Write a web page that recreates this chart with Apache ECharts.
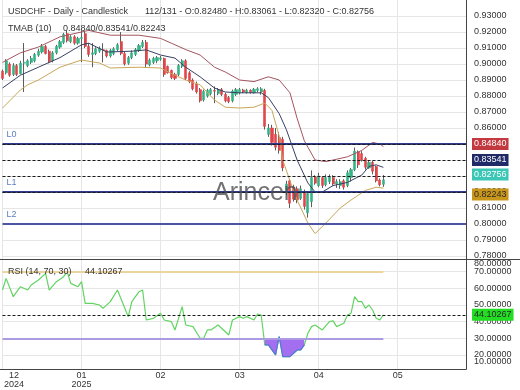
<!DOCTYPE html>
<html><head><meta charset="utf-8">
<script src="https://cdn.jsdelivr.net/npm/echarts@6/dist/echarts.min.js"></script>
<style>html,body{margin:0;padding:0;background:#fff}#c{width:520px;height:390px}</style>
</head><body><div id="c"></div>
<script>
// ---- data ----
const opens = [.8955,.8945,.9000,.8935,.8990,.8940,.9005,.8990,.9010,.9020,.9055,.9075,.9110,.9080,.9020,.9070,.9105,.9135,.9190,.9140,.9170,.9130,.9160,.9190,.9110,.9060,.9065,.9080,.9090,.9085,.9050,.9065,.9090,.9140,.9065,.9005,.9040,.9060,.9085,.9110,.9135,.8995,.9010,.9020,.9030,.9035,.8985,.8960,.8935,.8935,.8985,.9020,.8945,.8900,.8875,.8840,.8775,.8800,.8815,.8835,.8815,.8840,.8810,.8790,.8770,.8810,.8820,.8838,.8822,.8836,.8820,.8835,.8825,.8835,.8560,.8600,.8560,.8540,.8530,.8210,.8270,.8230,.8220,.8160,.8200,.8070,.8140,.8295,.8240,.8290,.8245,.8265,.8290,.8250,.8240,.8270,.8240,.8290,.8340,.8450,.8440,.8410,.8350,.8385,.8360,.8275,.82480];
const highs = [.8965,.9030,.9010,.9005,.9000,.9020,.9131,.9030,.9050,.9070,.9095,.9125,.9120,.9090,.9080,.9120,.9150,.9195,.9210,.9180,.9180,.9170,.9210,.9205,.9130,.9130,.9105,.9110,.9130,.9090,.9095,.9105,.9130,.9200,.9075,.9050,.9085,.9100,.9125,.9150,.9150,.9035,.9045,.9050,.9050,.9040,.8990,.8965,.8945,.9000,.9030,.9030,.8955,.8910,.8890,.8850,.8840,.8845,.8850,.8860,.8850,.8850,.8820,.8800,.8840,.8850,.8850,.8845,.8845,.8842,.8850,.8855,.8855,.8845,.8625,.8620,.8600,.8575,.8545,.8270,.8280,.8245,.8235,.8240,.8215,.8200,.8335,.8305,.8320,.8300,.8310,.8310,.8305,.8280,.8280,.8280,.8335,.8350,.8478,.8460,.8455,.8420,.8400,.8395,.8365,.8285,.83061];
const lows = [.8900,.8935,.8920,.8925,.8925,.8935,.8825,.8980,.9000,.9010,.9045,.9065,.9060,.9005,.9010,.9060,.9095,.9125,.9135,.9130,.9120,.9120,.9012,.9100,.9045,.8980,.9055,.9070,.9010,.9040,.9040,.9055,.9080,.9055,.8990,.8995,.9030,.9050,.9075,.9100,.8975,.8985,.9000,.9005,.9020,.8920,.8940,.8905,.8900,.8925,.8975,.8900,.8880,.8835,.8815,.8760,.8765,.8790,.8805,.8755,.8805,.8800,.8760,.8755,.8760,.8800,.8810,.8818,.8815,.8815,.8815,.8825,.8808,.8590,.8545,.8490,.8460,.8440,.8330,.8180,.8100,.8140,.8130,.8150,.8090,.8040,.8105,.8245,.8230,.8225,.8235,.8250,.8240,.8225,.8220,.8215,.8230,.8265,.8330,.8350,.8390,.8340,.8345,.8310,.8260,.8235,.82320];
const closes = [.8910,.9020,.8930,.8990,.8935,.9005,.9010,.9020,.9035,.9060,.9080,.9110,.9065,.9015,.9070,.9110,.9140,.9185,.9145,.9170,.9130,.9160,.9165,.9110,.9060,.9070,.9095,.9100,.9085,.9050,.9085,.9095,.9120,.9065,.9000,.9040,.9070,.9090,.9115,.9135,.9000,.9025,.9035,.9040,.9038,.8935,.8945,.8915,.8910,.8990,.9020,.8910,.8890,.8845,.8825,.8770,.8830,.8835,.8840,.8830,.8840,.8810,.8770,.8765,.8830,.8840,.8840,.8825,.8836,.8822,.8842,.8845,.8845,.8610,.8600,.8510,.8480,.8460,.8350,.8250,.8130,.8155,.8150,.8220,.8110,.8190,.8290,.8255,.8300,.8240,.8290,.8295,.8250,.8265,.8265,.8230,.8320,.8340,.8455,.8370,.8400,.8355,.8385,.8330,.8270,.8245,.82756];

const upperBand = [[0,.901],[5,.907],[10,.9106],[16,.917],[22,.920],[24,.921],[30,.918],[38,.918],[44,.916],[47,.913],[51,.909],[55,.9056],[59,.898],[62,.895],[66,.890],[70,.889],[74,.892],[77,.890],[80,.882],[82,.866],[84,.852],[85,.848],[87,.840],[90,.839],[92,.840],[96,.842],[100,.846],[103,.851],[105,.850],[106,.84840]];
const midBand = [[0,.885],[5,.893],[10,.898],[16,.904],[22,.912],[24,.913],[29,.9075],[36,.908],[40,.9088],[44,.9056],[48,.9037],[51,.898],[55,.892],[59,.885],[62,.8825],[66,.882],[72,.882],[74,.879],[77,.869],[79,.859],[82,.840],[85,.8256],[87,.820],[89,.820],[92,.824],[96,.826],[100,.8306],[102,.836],[104,.837],[106,.83541]];
const lowerBand = [[0,.8725],[5,.8838],[7,.887],[10,.890],[16,.898],[22,.9025],[27,.9006],[30,.8975],[38,.898],[44,.8975],[47,.894],[51,.890],[55,.887],[59,.8775],[62,.873],[66,.8725],[70,.873],[73,.8756],[75,.871],[77,.855],[78,.840],[80,.827],[82,.815],[85,.8006],[87,.794],[90,.8006],[94,.810],[97,.815],[101,.821],[104,.823],[106,.82243]];

const rsiPoints = [[0,59],[1,66],[3,55],[5,61],[7,59],[8,62],[10,65],[12,69],[13,59],[15,64],[17,67],[18,70],[19,63],[21,61],[22,64],[23,51],[25,51],[27,50],[28,48],[30,52],[32,59],[35,43],[36,52],[38,58],[39,59],[40,41],[42,42],[44,45],[45,41],[47,40],[48,35],[49,42],[50,49],[51,38],[53,37],[55,30],[56,30],[57,35],[58,35],[60,38],[63,32],[64,41],[66,43],[67,42],[68,43],[70,41],[71,44.6],[72,44],[73,26],[74,26],[76,20],[77,31],[78,19],[80,19],[81,21],[82,23],[83,23],[84,26],[85,33],[86,37],[87,38],[89,35],[91,40],[92,40.5],[93,37],[95,39],[96,44],[97,45],[98,55],[99,52],[100,52],[101,48],[102,50],[103,47],[104,42],[105,41],[106,44.10267]];
const rsiDipRange = [73, 84];

const levelNames = ['L0','L1','L2'];
const levelValues = [0.84785, 0.82111, 0.80392];
const priceTicks = [0.78,0.79,0.80,0.81,0.82,0.83,0.84,0.85,0.86,0.87,0.88,0.89,0.90,0.91,0.92,0.93];
const rsiTicks = [20,30,40,50,60,70];
const rsiEdgeTicks = [80,10];
const rsiBands = [70,30];
const monthLabels = ['12\n2024','01\n2025','02','03','04','05'];
const LABEL_EVERY = 22;
const SLOTS = 130;

// ---- chart ----
const FONT = 'Liberation Sans, Arial, sans-serif';
const chart = echarts.init(document.getElementById('c'), null, {renderer:'canvas', width:520, height:390});
const cats = Array.from({length: SLOTS}, (_, i) => String(i));
const last = closes.length - 1;
const f5 = v => v.toFixed(5);
const UP = '#35b386', DOWN = '#e0464c', WICK = '#5c5c5c';
const rsiLast = rsiPoints[rsiPoints.length - 1][1];
const tmabLast = [upperBand, midBand, lowerBand].map(a => a[a.length - 1][1]);

const dashed = (v, bg, fg, off) => ({
  yAxis: v,
  lineStyle: {color: '#1a1a1a', width: 1, type: [3, 2]},
  label: {show: true, position: 'end', formatter: f5(v), backgroundColor: bg, color: fg,
    padding: [2, 2, 1, 2], fontSize: 9, fontFamily: FONT, distance: 6, offset: [0, off]}
});

const priceMarks = [];
levelValues.forEach((v, i) => {
  priceMarks.push({yAxis: v, lineStyle: {color: i === 2 ? '#4b55a3' : '#2f3a8a', width: 2, type: 'solid'},
    label: {show: true, position: 'insideStartTop', formatter: levelNames[i], color: '#5f7dc2', fontSize: 9, fontFamily: FONT, distance: [4, 5]}});
  priceMarks.push({yAxis: v, lineStyle: {opacity: 0},
    label: {show: true, position: 'insideEndTop', formatter: f5(v), color: '#7290cf', fontSize: 10, fontFamily: FONT, distance: [39, 2]}});
});
priceMarks.push(dashed(tmabLast[0], '#c23a3f', '#fff', 0));
priceMarks.push(dashed(tmabLast[1], '#1f2a66', '#fff', 0));
priceMarks.push(dashed(closes[last], '#3cc6b5', '#fff', -1.5));
priceMarks.push(dashed(tmabLast[2], '#c9961c', '#2a2a2a', 2.5));

const band = (name, data, color, extra) => Object.assign({
  name, type: 'line', xAxisIndex: 0, yAxisIndex: 0, data, showSymbol: false, symbol: 'none',
  lineStyle: {color, width: 1}, silent: true, z: 3
}, extra || {});

const option = {
  animation: false,
  backgroundColor: '#fff',
  textStyle: {fontFamily: FONT},
  grid: [
    {left: 2.5, right: 54, top: 0, height: 259, containLabel: false, outerBoundsMode: 'none'},
    {left: 2.5, right: 54, top: 259, height: 110, containLabel: false, outerBoundsMode: 'none'}
  ],
  xAxis: [
    {gridIndex: 0, type: 'category', data: cats, boundaryGap: false,
      axisLine: {show: false}, axisTick: {show: false}, axisLabel: {show: false},
      splitLine: {show: true, interval: LABEL_EVERY - 1, lineStyle: {color: '#e6e6e6'}}},
    {gridIndex: 1, type: 'category', data: cats, boundaryGap: false,
      axisLine: {show: false}, axisTick: {show: false},
      axisLabel: {show: true, interval: LABEL_EVERY - 1, color: '#333', fontSize: 9, lineHeight: 9, margin: 2,
        formatter: (val, idx) => {
          if (idx % LABEL_EVERY !== 0) return '';
          const t = monthLabels[idx / LABEL_EVERY] || '';
          if (idx === 0) return t.split('\n').map(s => '{f|' + s + '}').join('\n');
          return t;
        },
        rich: {f: {padding: [0, 0, 0, 23], fontSize: 9, lineHeight: 9, color: '#333', fontFamily: FONT}}},
      splitLine: {show: true, interval: LABEL_EVERY - 1, lineStyle: {color: '#e6e6e6'}}}
  ],
  yAxis: [
    {gridIndex: 0, type: 'value', position: 'right', min: 0.778125, max: 0.94,
      axisLine: {show: false}, axisTick: {show: false, customValues: priceTicks},
      axisLabel: {customValues: priceTicks, formatter: v => f5(v), color: '#333', fontSize: 9, margin: 8},
      splitLine: {show: true, lineStyle: {color: '#e6e6e6'}}},
    {gridIndex: 1, type: 'value', position: 'right', min: 11.56, max: 77.63,
      axisLine: {show: false}, axisTick: {show: false, customValues: rsiTicks},
      axisLabel: {customValues: rsiTicks, formatter: v => f5(v), color: '#333', fontSize: 9, margin: 8},
      splitLine: {show: true, lineStyle: {color: '#e6e6e6'}}}
  ],
  series: [
    {name: 'wick', type: 'candlestick', xAxisIndex: 0, yAxisIndex: 0, barWidth: 1, clip: false, silent: true,
      data: opens.map((o, i) => [o, closes[i], lows[i], highs[i]]),
      itemStyle: {color: WICK, color0: WICK, borderColor: WICK, borderColor0: WICK, borderWidth: 1}},
    {name: 'body', type: 'candlestick', xAxisIndex: 0, yAxisIndex: 0, barWidth: 2.6, clip: false, silent: true,
      data: opens.map((o, i) => [o, closes[i], Math.min(o, closes[i]), Math.max(o, closes[i])]),
      itemStyle: {color: UP, color0: DOWN, borderColor: UP, borderColor0: DOWN, borderWidth: 0.6}},
    band('upper', upperBand, '#a4545f'),
    band('mid', midBand, '#394063', {markLine: {silent: true, symbol: ['none', 'none'], animation: false, data: priceMarks}}),
    band('lower', lowerBand, '#c9a557'),
    {name: 'rsiDip', type: 'line', xAxisIndex: 1, yAxisIndex: 1, showSymbol: false, symbol: 'none', silent: true, z: 3,
      data: rsiPoints.filter(p => p[0] >= rsiDipRange[0] && p[0] <= rsiDipRange[1]),
      lineStyle: {color: '#5577d8', width: 1.2},
      areaStyle: {color: '#a46ef0', opacity: 1, origin: rsiBands[1]}},
    {name: 'rsi', type: 'line', xAxisIndex: 1, yAxisIndex: 1, showSymbol: false, symbol: 'none', silent: true, z: 2,
      data: rsiPoints, lineStyle: {color: '#62d462', width: 1.2},
      markLine: {silent: true, symbol: ['none', 'none'], animation: false, data: [
        [{coord: ['0', rsiBands[0]], lineStyle: {color: '#ecd49e', width: 2, type: 'solid'}, label: {show: false}}, {coord: [String(last), rsiBands[0]]}],
        [{coord: ['0', rsiBands[1]], lineStyle: {color: '#ab9be2', width: 2, type: 'solid'}, label: {show: false}}, {coord: [String(last), rsiBands[1]]}],
        {yAxis: rsiLast, lineStyle: {color: '#1a1a1a', width: 1, type: [3, 2]},
          label: {show: true, position: 'end', formatter: f5(rsiLast), backgroundColor: '#22dd22', color: '#2a2a2a',
            padding: [2, 2, 1, 2], fontSize: 9, fontFamily: FONT, distance: 6}}
      ]}}
  ],
  graphic: [
    {type: 'line', shape: {x1: 0, y1: 259.5, x2: 520, y2: 259.5}, style: {stroke: '#444', lineWidth: 1}, z: 100},
    {type: 'line', shape: {x1: 0, y1: 369.5, x2: 466.5, y2: 369.5}, style: {stroke: '#444', lineWidth: 1}, z: 100},
    {type: 'line', shape: {x1: 466.5, y1: 0, x2: 466.5, y2: 369.5}, style: {stroke: '#444', lineWidth: 1}, z: 100},
    {type: 'text', x: 8, y: 12, z: 100, style: {text: 'USDCHF - Daily - Candlestick', font: '9px ' + FONT, fill: '#333', verticalAlign: 'middle', textVerticalAlign: 'middle'}},
    {type: 'text', x: 145, y: 12, z: 100, style: {text: '112/131 - O:' + f5(opens[last]) + ' - H:' + f5(highs[last]) + ' - L:' + f5(lows[last]) + ' - C:' + f5(closes[last]), font: '9px ' + FONT, fill: '#333', verticalAlign: 'middle', textVerticalAlign: 'middle'}},
    {type: 'text', x: 8, y: 29, z: 100, style: {text: 'TMAB (10)', font: '9px ' + FONT, fill: '#333', verticalAlign: 'middle', textVerticalAlign: 'middle'}},
    {type: 'text', x: 63, y: 29, z: 100, style: {text: tmabLast.map(f5).join('/'), font: '9px ' + FONT, fill: '#333', verticalAlign: 'middle', textVerticalAlign: 'middle'}},
    {type: 'text', x: 8, y: 272, z: 100, style: {text: 'RSI (14, 70, 30)', font: '9px ' + FONT, fill: '#333', verticalAlign: 'middle', textVerticalAlign: 'middle'}},
    {type: 'text', x: 85, y: 272, z: 100, style: {text: f5(rsiLast), font: '9px ' + FONT, fill: '#333', verticalAlign: 'middle', textVerticalAlign: 'middle'}},
    {type: 'text', x: 474, y: 264, z: 100, style: {text: f5(rsiEdgeTicks[0]), font: '9px ' + FONT, fill: '#333', verticalAlign: 'middle', textVerticalAlign: 'middle'}},
    {type: 'text', x: 474, y: 362, z: 100, style: {text: f5(rsiEdgeTicks[1]), font: '9px ' + FONT, fill: '#333', verticalAlign: 'middle', textVerticalAlign: 'middle'}},
    {type: 'text', x: 213, y: 193, z: 90, style: {text: 'Arincen', font: '25px ' + FONT, fill: 'rgba(75,75,75,0.78)', verticalAlign: 'middle', textVerticalAlign: 'middle'}}
  ]
};
chart.setOption(option);
</script></body></html>
